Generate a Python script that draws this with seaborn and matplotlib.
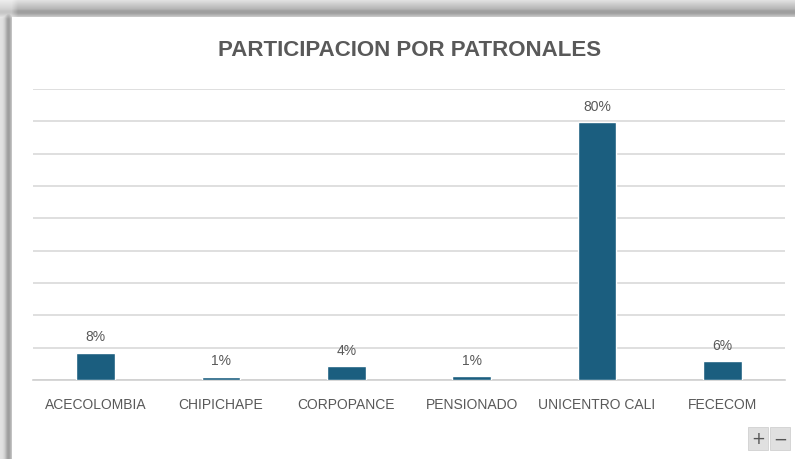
import numpy as np
import pandas as pd
import matplotlib
matplotlib.use("Agg")
import matplotlib.pyplot as plt
import seaborn as sns
from matplotlib.patches import Rectangle

categories = ["ACECOLOMBIA", "CHIPICHAPE", "CORPOPANCE", "PENSIONADO", "UNICENTRO CALI", "FECECOM"]
values = [8.3, 0.9, 4.2, 1.1, 79.7, 5.8]
labels = ["8%", "1%", "4%", "1%", "80%", "6%"]
title = "PARTICIPACION POR PATRONALES"

sns.set_theme(style="white")
plt.rcParams['font.family'] = ['Liberation Sans', 'DejaVu Sans']

W, H = 795, 460
fig = plt.figure(figsize=(W / 100, H / 100), dpi=100)
fig.patch.set_facecolor("white")

# soft shadow frame background
bg = fig.add_axes([0, 0, 1, 1], zorder=-10)
ys = np.arange(H)[:, None] + 0.5
xs = np.arange(W)[None, :] + 0.5
top = np.where(ys < 18.5, 0.25 + 0.75 * np.exp(-((ys - 13.0) / 5.0) ** 2), 0.0)
top = np.where(ys < 13.0, np.maximum(top, 0.25 + 0.75 * ys / 13.0 * 0.9), top)
left_edge = np.where(xs < 12.5, 0.3 + 0.7 * np.exp(-((xs - 8.5) / 3.5) ** 2), 0.0)
left = left_edge * np.clip((ys - 8) / 12.0, 0, 1)
shade = np.maximum(top * np.clip((xs - 2) / 16.0, 0.6, 1), left)
img = 1 - 0.38 * shade
bg.imshow(img, cmap="gray", vmin=0, vmax=1, aspect="auto", extent=[0, W, H, 0],
          interpolation="bilinear")
bg.set_xlim(0, W)
bg.set_ylim(H, 0)
bg.axis("off")

ax = fig.add_axes([33 / W, 1 - 381 / H, (785 - 33) / W, (381 - 90) / H])
ax.patch.set_alpha(0)
df = pd.DataFrame({"cat": categories, "val": values})
sns.barplot(data=df, x="cat", y="val", color="#1b5e7f", width=0.31, saturation=1, ax=ax, zorder=3)
ax.set_xlim(-0.5, 5.5)
ax.set_ylim(0, 90)
ax.set_yticks(np.arange(0, 91, 10))
ax.yaxis.grid(True, color="#d9d9d9", linewidth=1.2, zorder=0)
ax.set_yticklabels([])
ax.tick_params(axis="y", length=0)
for s in ["top", "right", "left"]:
    ax.spines[s].set_visible(False)
ax.spines["bottom"].set_color("#d0d0d0")
ax.spines["bottom"].set_linewidth(1.2)
ax.set_xlabel("")
ax.set_ylabel("")
ax.set_xticks(range(len(categories)))
ax.set_xticklabels(categories, fontsize=10, color="#595959")
ax.tick_params(axis="x", which="major", length=0, pad=12)
ax.set_xticks(np.arange(-0.5, 6, 1), minor=True)
ax.tick_params(axis="x", which="minor", length=5, color="#d0d0d0", width=1.2)

for i, (v, lab) in enumerate(zip(values, labels)):
    ax.annotate(lab, (i, v), xytext=(0, 7), textcoords="offset points",
                ha="center", va="bottom", fontsize=10, color="#595959")

fig.text(410 / W, 1 - 50 / H, title, ha="center", va="center", fontsize=16,
         fontweight="bold", color="#595959",
         family=["Liberation Sans", "DejaVu Sans"])

# +/- buttons
for x0, sym in [(748, "+"), (770, "\u2212")]:
    fig.patches.append(Rectangle((x0 / W, 1 - 451 / H), 20 / W, 23 / H,
                                 transform=fig.transFigure, facecolor="#e0e0e0",
                                 edgecolor="#d0d0d0", linewidth=0.6))
    fig.text((x0 + 10) / W, 1 - 439.5 / H, sym, ha="center", va="center",
             fontsize=12, color="#555555", family=["DejaVu Sans"])

fig.savefig("out.png", dpi=100)
